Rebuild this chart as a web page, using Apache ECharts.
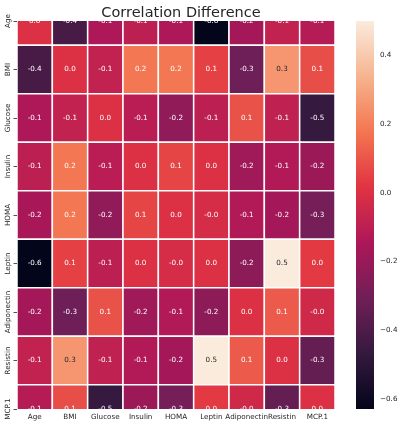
<!DOCTYPE html>
<html>
<head>
<meta charset="utf-8">
<script src="https://cdn.jsdelivr.net/npm/echarts@6/dist/echarts.min.js"></script>
<style>html,body{margin:0;padding:0;background:#fff}#c{width:401px;height:434px}</style>
</head>
<body>
<div id="c"></div>
<script>
const labels = ['Age','BMI','Glucose','Insulin','HOMA','Leptin','Adiponectin','Resistin','MCP.1'];
const age         = [ 0.00, -0.42, -0.14, -0.10, -0.14, -0.63, -0.17, -0.08, -0.12];
const bmi         = [-0.42,  0.00, -0.08,  0.18,  0.18,  0.05, -0.31,  0.26,  0.08];
const glucose     = [-0.14, -0.08,  0.00, -0.11, -0.22, -0.10,  0.09, -0.09, -0.47];
const insulin     = [-0.10,  0.18, -0.11,  0.00,  0.06,  0.00, -0.18, -0.13, -0.19];
const homa        = [-0.16,  0.18, -0.22,  0.06,  0.00, -0.02, -0.13, -0.17, -0.29];
const leptin      = [-0.63,  0.05, -0.10,  0.00, -0.02,  0.00, -0.23,  0.50,  0.03];
const adiponectin = [-0.17, -0.31,  0.09, -0.18, -0.13, -0.23,  0.00,  0.11, -0.04];
const resistin    = [-0.08,  0.26, -0.09, -0.13, -0.17,  0.50,  0.11,  0.00, -0.34];
const mcp1        = [-0.12,  0.08, -0.47, -0.19, -0.29,  0.03, -0.04, -0.34,  0.00];
const colorbarTicks = [-0.6, -0.4, -0.2, 0.0, 0.2, 0.4];
const vmin = -0.63, vmax = 0.50;

const rowsData = [age, bmi, glucose, insulin, homa, leptin, adiponectin, resistin, mcp1];
const rocket = ['#03051a','#35193e','#701f57','#ad1759','#e13342','#f37651','#f6b48f','#faebdd'];
const FONT = 'DejaVu Sans';
const TXT = '#262626';

const cells = [];
rowsData.forEach((row, r) => row.forEach((v, c) => cells.push([c, r, v])));

const chart = echarts.init(document.getElementById('c'), null, {renderer: 'canvas'});
chart.setOption({
  animation: false,
  backgroundColor: '#fff',
  title: {
    text: 'Correlation Difference', left: 176, top: 1, textAlign: 'center',
    textStyle: {fontFamily: FONT, fontSize: 14.5, fontWeight: 'normal', color: TXT}
  },
  grid: [
    {left: 17, right: 66, top: 21, bottom: 25},
    {left: 356, width: 18, top: 21, bottom: 25}
  ],
  xAxis: [
    {
      type: 'category', gridIndex: 0, data: labels, position: 'bottom',
      axisLine: {show: false},
      axisTick: {show: true, alignWithLabel: true, length: 3.5, lineStyle: {color: TXT, width: 0.8}},
      axisLabel: {fontFamily: FONT, fontSize: 7.2, color: TXT, margin: 5, interval: 0, hideOverlap: false},
      splitLine: {show: false}
    },
    {type: 'value', gridIndex: 1, min: 0, max: 1, show: false}
  ],
  yAxis: [
    {
      type: 'value', gridIndex: 0, min: 0, max: 8, interval: 1, inverse: true,
      axisLine: {show: false},
      axisTick: {show: true, length: 3.5, lineStyle: {color: TXT, width: 0.8}},
      axisLabel: {
        fontFamily: FONT, fontSize: 7.2, color: TXT, margin: 5, rotate: 90,
        showMinLabel: true, showMaxLabel: true, hideOverlap: false,
        formatter: v => labels[Math.round(v)]
      },
      splitLine: {show: false}
    },
    {
      type: 'value', gridIndex: 1, min: vmin, max: vmax, position: 'right',
      axisLine: {show: false},
      axisTick: {show: true, length: 3.5, customValues: colorbarTicks, lineStyle: {color: TXT, width: 0.8}},
      axisLabel: {
        fontFamily: FONT, fontSize: 7.2, color: TXT, margin: 6, customValues: colorbarTicks,
        formatter: v => v.toFixed(1).replace('-', '\u2212')
      },
      splitLine: {show: false}
    }
  ],
  visualMap: {
    type: 'continuous', show: false, min: vmin, max: vmax, dimension: 2, seriesIndex: 0,
    inRange: {color: rocket}
  },
  series: [
    {
      type: 'custom', xAxisIndex: 0, yAxisIndex: 0, clip: true,
      encode: {x: 0, y: 1},
      data: cells,
      renderItem: function (params, api) {
        const x = api.value(0), y = api.value(1), v = api.value(2);
        const p = api.coord([x, y]);
        const s = api.size([1, 1]);
        const color = api.visual('color');
        return {
          type: 'group',
          children: [
            {type: 'rect', shape: {x: p[0] - s[0] / 2, y: p[1] - s[1] / 2, width: s[0], height: s[1]},
             style: {fill: color, stroke: '#ffffff', lineWidth: 1.5}},
            {type: 'text', x: p[0], y: p[1],
             style: {text: v.toFixed(1), fill: v > 0.22 ? TXT : '#ffffff', fontFamily: FONT, fontSize: 7.2,
                     align: 'center', verticalAlign: 'middle'}}
          ]
        };
      }
    },
    {
      type: 'custom', xAxisIndex: 1, yAxisIndex: 1, clip: false,
      data: [[0, vmin]],
      renderItem: function (params, api) {
        const a = api.coord([0, vmax]);
        const b = api.coord([1, vmin]);
        const stops = rocket.map((c, i) => ({offset: i / (rocket.length - 1), color: c}));
        return {
          type: 'rect',
          shape: {x: a[0], y: a[1], width: b[0] - a[0], height: b[1] - a[1]},
          style: {fill: new echarts.graphic.LinearGradient(0, 1, 0, 0, stops)}
        };
      }
    }
  ]
});
</script>
</body>
</html>
